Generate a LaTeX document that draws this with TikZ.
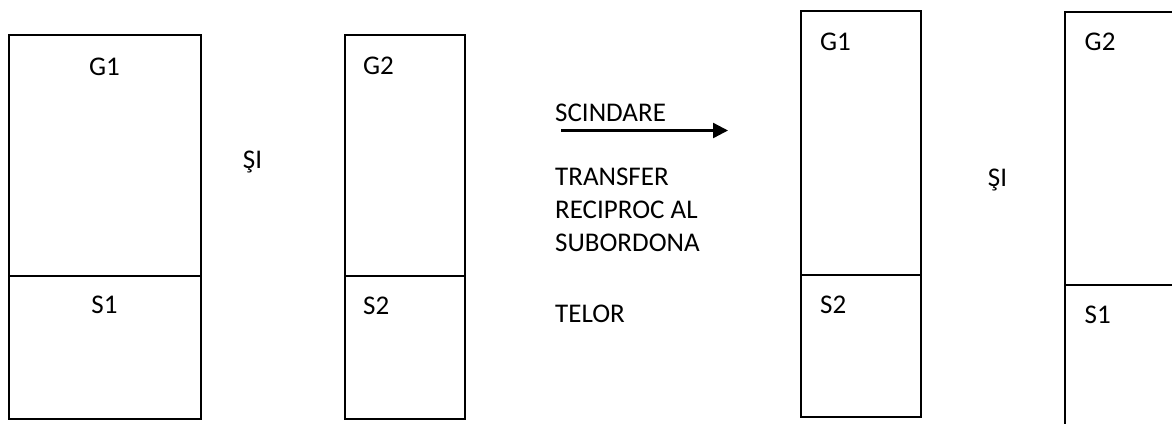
\documentclass[tikz,border=0pt]{standalone}
\usepackage{fontspec}
\setmainfont{Carlito}
\usetikzlibrary{arrows.meta}

\tikzset{
  boxline/.style={line width=2.3pt, line join=miter},
  divline/.style={line width=1.9pt},
  lbl/.style={inner sep=0pt, anchor=base west, font=\fontsize{27}{27}\selectfont},
  clbl/.style={inner sep=0pt, anchor=base, font=\fontsize{27}{27}\selectfont},
  flow/.style={line width=2.4pt, -{Triangle[length=15pt,width=15pt]}}
}

\begin{document}
\begin{tikzpicture}[x=1pt, y=-1pt]
  \useasboundingbox (0,0) rectangle (1172,423);
  \clip (0,0) rectangle (1172,423);

  % first pair: G1 over S1, and G2 over S2
  \draw[boxline] (9,35) rectangle (201,419);
  \draw[divline] (9,275.7) -- (201,275.7);
  \node[clbl] (g1a) at (104.5,75.5) {G1};
  \node[clbl] (s1a) at (104.5,313) {S1};

  \node[clbl] (sia) at (252.5,168.5) {ŞI};

  \draw[boxline] (345,35) rectangle (465,419);
  \draw[divline] (345,276) -- (465,276);
  \node[lbl] (g2a) at (363,74.5) {G2};
  \node[lbl] (s2a) at (363,314) {S2};

  % the operation between the two pairs
  \node[lbl] (scind) at (555,121.5) {SCINDARE};
  \coordinate (arrS) at (561,130.5);
  \coordinate (arrE) at (728,130.5);
  \draw[flow] (arrS) -- (arrE);
  \node[lbl] (tr1) at (555,185) {TRANSFER};
  \node[lbl] (tr2) at (555,218) {RECIPROC AL};
  \node[lbl] (tr3) at (555,251.5) {SUBORDONA};
  \node[lbl] (tr4) at (555,322) {TELOR};

  % second pair: G1 over S2, and G2 over S1
  \draw[boxline] (800.7,11) rectangle (921,416.7);
  \draw[divline] (800.7,275.3) -- (921,275.3);
  \node[lbl] (g1b) at (820,50) {G1};
  \node[lbl] (s2b) at (820,313.3) {S2};

  \node[clbl] (sib) at (997.5,186.5) {ŞI};

  \draw[boxline] (1065,440) -- (1065,11.7) -- (1190,11.7);
  \draw[divline] (1065,285) -- (1190,285);
  \node[lbl] (g2b) at (1084.5,50) {G2};
  \node[lbl] (s1b) at (1084.5,323) {S1};
\end{tikzpicture}
\end{document}
